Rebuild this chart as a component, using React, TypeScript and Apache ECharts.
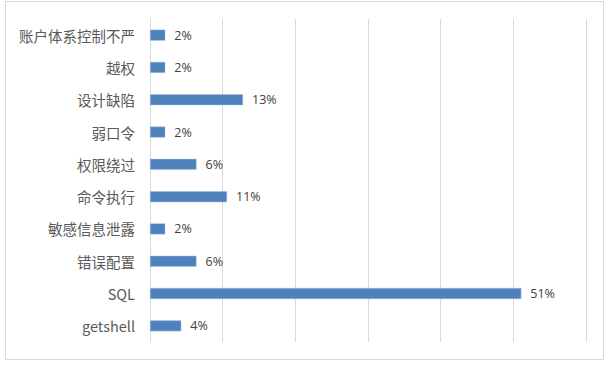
import React, { useEffect, useRef } from "react";
import * as echarts from "echarts";

const categories = [
  "账户体系控制不严",
  "越权",
  "设计缺陷",
  "弱口令",
  "权限绕过",
  "命令执行",
  "敏感信息泄露",
  "错误配置",
  "SQL",
  "getshell",
];
const values = [0.021, 0.021, 0.128, 0.021, 0.064, 0.106, 0.021, 0.064, 0.511, 0.043];

export default function App() {
  const ref = useRef<HTMLDivElement>(null);
  useEffect(() => {
    if (!ref.current) return;
    const chart = echarts.init(ref.current, undefined, { renderer: "svg" });
    chart.setOption({
      animation: false,
      backgroundColor: "#ffffff",
      textStyle: { fontFamily: "'Noto Sans', 'Noto Sans CJK SC', sans-serif" },
      graphic: [
        {
          type: "rect",
          shape: { x: 5.5, y: 1.5, width: 598, height: 358 },
          style: { fill: "none", stroke: "#d9d9d9", lineWidth: 1 },
          silent: true,
        },
      ],
      grid: { left: 150, right: 27, top: 19, bottom: 24, containLabel: false },
      xAxis: {
        type: "value",
        min: 0,
        max: 0.6,
        interval: 0.1,
        axisLabel: { show: false },
        axisLine: { show: false },
        axisTick: { show: false },
        splitLine: { show: true, lineStyle: { color: "#d9d9d9", width: 1 } },
      },
      yAxis: {
        type: "category",
        data: categories,
        inverse: true,
        axisLine: { show: true, lineStyle: { color: "#d9d9d9" } },
        axisTick: { show: false },
        axisLabel: {
          color: "#595959",
          fontSize: 14.5,
          margin: 15,
          fontFamily: "'Noto Sans CJK SC', 'Noto Sans', sans-serif",
        },
      },
      series: [
        {
          type: "bar",
          data: values,
          barWidth: 11,
          itemStyle: { color: "#4f81bd", borderColor: "#a7c0de", borderWidth: 0.5 },
          label: {
            show: true,
            position: "right",
            distance: 9,
            color: "#404040",
            fontSize: 12.5,
            fontFamily: "'Open Sans', 'Noto Sans', sans-serif",
            formatter: (p: any) => Math.round(p.value * 100) + "%",
          },
        },
      ],
    });
    return () => chart.dispose();
  }, []);
  return (
    <div
      ref={ref}
      style={{ position: "fixed", left: 0, top: 0, width: 613, height: 366 }}
    />
  );
}
